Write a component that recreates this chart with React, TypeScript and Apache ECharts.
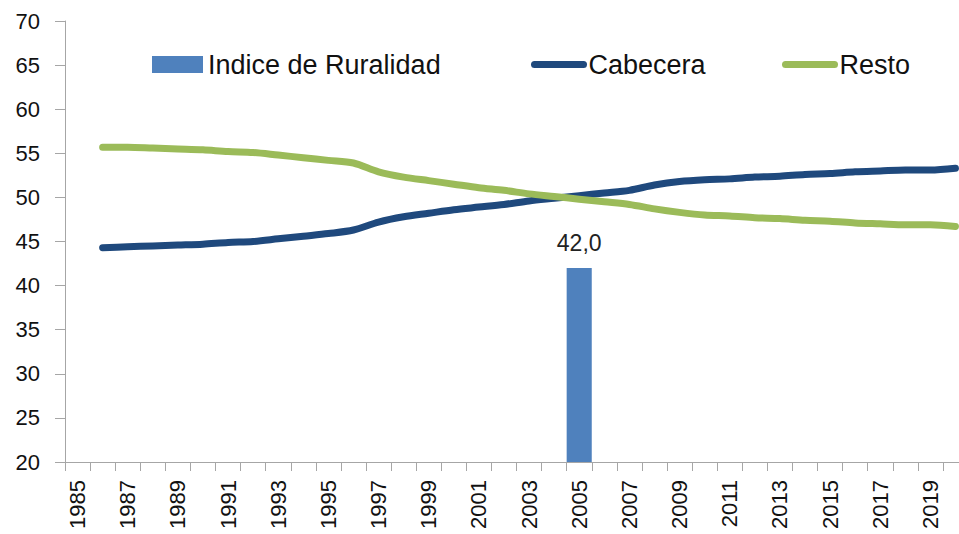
import React, { useEffect, useRef } from "react";
import * as echarts from "echarts";

const years: string[] = [];
for (let y = 1985; y <= 2020; y++) years.push(String(y));

// Índice de Ruralidad (only 2005)
const indiceRuralidad: (number | null)[] = [
  null, null, null, null, null, null, null, null, null, null,
  null, null, null, null, null, null, null, null, null, null,
  42.0, null, null, null, null, null, null, null, null, null,
  null, null, null, null, null, null,
];

// Cabecera (starts 1986)
const cabecera: (number | null)[] = [
  null, 44.3, 44.4, 44.5, 44.6, 44.7, 44.9, 45.0, 45.3, 45.6,
  45.9, 46.3, 47.2, 47.8, 48.2, 48.6, 48.9, 49.2, 49.6, 49.9,
  50.2, 50.5, 50.8, 51.4, 51.8, 52.0, 52.1, 52.3, 52.4, 52.6,
  52.7, 52.9, 53.0, 53.1, 53.1, 53.3,
];

// Resto (starts 1986)
const resto: (number | null)[] = [
  null, 55.7, 55.7, 55.6, 55.5, 55.4, 55.2, 55.1, 54.8, 54.5,
  54.2, 53.9, 52.9, 52.3, 51.9, 51.5, 51.1, 50.8, 50.4, 50.1,
  49.8, 49.5, 49.2, 48.7, 48.3, 48.0, 47.9, 47.7, 47.6, 47.4,
  47.3, 47.1, 47.0, 46.9, 46.9, 46.7,
];

const FONT = "'Liberation Sans', Arial, sans-serif";
const BAR_COLOR = "#4F81BD";
const BLUE = "#1F497D";
const GREEN = "#9BBB59";
const AXIS = "#A6A6A6";

export default function App() {
  const ref = useRef<HTMLDivElement>(null);

  useEffect(() => {
    if (!ref.current) return;
    const chart = echarts.init(ref.current, null, { renderer: "svg" });
    const legendText = { fontFamily: FONT, fontSize: 27, color: "#111" };
    chart.setOption({
      animation: false,
      backgroundColor: "#ffffff",
      textStyle: { fontFamily: FONT },
      grid: { left: 65, top: 21, bottom: 72, right: 0, containLabel: false },
      legend: [
        {
          data: [{ name: "Indice de Ruralidad", icon: "rect" }],
          left: 147,
          top: 46,
          itemWidth: 51,
          itemHeight: 17,
          itemGap: 0,
          textStyle: legendText,
        },
        {
          data: [
            {
              name: "Cabecera",
              itemStyle: { opacity: 0 },
              lineStyle: { width: 7, cap: "round", color: BLUE },
            },
          ],
          left: 526,
          top: 46,
          itemWidth: 49,
          itemHeight: 17,
          textStyle: legendText,
        },
        {
          data: [
            {
              name: "Resto",
              itemStyle: { opacity: 0 },
              lineStyle: { width: 7, cap: "round", color: GREEN },
            },
          ],
          left: 777,
          top: 46,
          itemWidth: 49,
          itemHeight: 17,
          textStyle: legendText,
        },
      ],
      xAxis: {
        type: "category",
        data: years,
        boundaryGap: true,
        axisLine: { lineStyle: { color: AXIS, width: 1 } },
        axisTick: { show: true, interval: 0, length: 9, lineStyle: { color: AXIS } },
        axisLabel: {
          interval: 1,
          rotate: 90,
          margin: 18,
          fontSize: 22,
          fontFamily: FONT,
          color: "#111",
        },
        splitLine: { show: false },
      },
      yAxis: {
        type: "value",
        min: 20,
        max: 70,
        interval: 5,
        axisLine: { show: true, lineStyle: { color: AXIS, width: 1 } },
        axisTick: { show: true, length: 10, lineStyle: { color: AXIS } },
        axisLabel: { margin: 25, fontSize: 22, fontFamily: FONT, color: "#111" },
        splitLine: { show: false },
      },
      series: [
        {
          name: "Indice de Ruralidad",
          type: "bar",
          data: indiceRuralidad,
          barWidth: "100%",
          itemStyle: { color: BAR_COLOR },
          label: {
            show: true,
            position: "top",
            distance: 13,
            fontSize: 23,
            fontFamily: FONT,
            color: "#222",
            formatter: (p: any) => Number(p.value).toFixed(1).replace(".", ","),
          },
        },
        {
          name: "Cabecera",
          type: "line",
          data: cabecera,
          smooth: 0.3,
          showSymbol: false,
          symbol: "none",
          lineStyle: { color: BLUE, width: 7, cap: "round", join: "round" },
          itemStyle: { color: BLUE },
        },
        {
          name: "Resto",
          type: "line",
          data: resto,
          smooth: 0.3,
          showSymbol: false,
          symbol: "none",
          lineStyle: { color: GREEN, width: 7, cap: "round", join: "round" },
          itemStyle: { color: GREEN },
        },
      ],
    });
    return () => chart.dispose();
  }, []);

  return (
    <div
      style={{
        position: "fixed",
        left: 0,
        top: 0,
        width: 959,
        height: 534,
        overflow: "hidden",
        background: "#fff",
      }}
    >
      <div ref={ref} style={{ width: 968, height: 534 }} />
    </div>
  );
}
